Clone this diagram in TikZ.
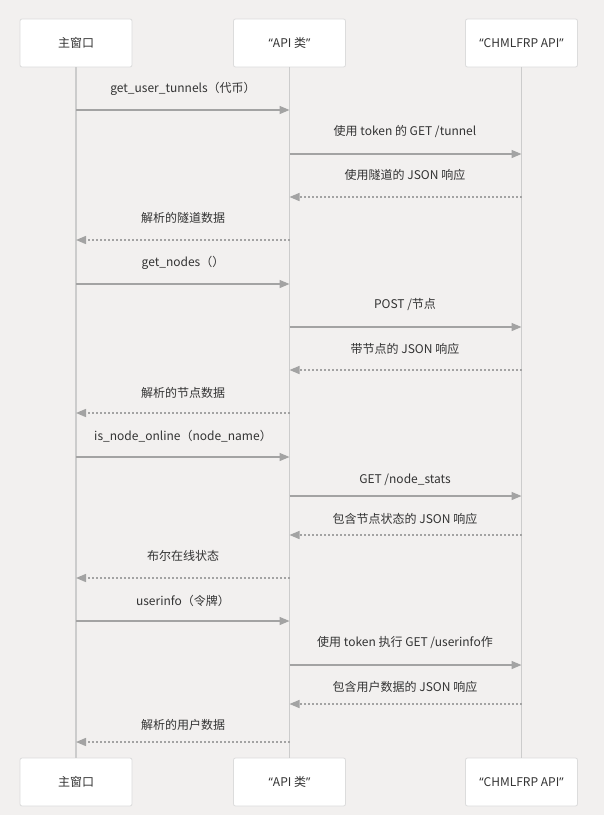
\documentclass[tikz,border=0pt]{standalone}
\usepackage{fontspec}
\setmainfont{Noto Sans CJK SC}
\newfontfamily\latinq{Noto Sans}
\usetikzlibrary{arrows.meta}
\definecolor{bgcol}{HTML}{F2F0EF}
\definecolor{boxline}{HTML}{DCDCDC}
\definecolor{lifecol}{HTML}{CCCCCC}
\definecolor{arrcol}{HTML}{A3A3A3}
\definecolor{txt}{HTML}{333333}
\newcommand\qopen{{\latinq “}}
\newcommand\qclose{{\latinq ”}}

\begin{document}
\begin{tikzpicture}[x=1pt, y=-1pt, font=\fontsize{12}{14}\selectfont,
	actor/.style={draw=boxline, fill=white, rounded corners=2pt, line width=0.8pt,
		minimum width=112pt, minimum height=48pt, text=txt},
	life/.style={draw=lifecol, line width=1.5pt},
	call/.style={draw=arrcol, line width=1.4pt, -{Triangle[length=10pt,width=8pt]}},
	reply/.style={call, dash pattern=on 2pt off 2pt},
	lbl/.style={text=txt, inner sep=0pt}]
			%background
			\fill[bgcol] (0,0) rectangle (604,815);
			%participants
			\node[actor] (mwTop) at (76,43) {主窗口};
			\node[actor] (apiTop) at (289.5,43) {\qopen API 类\qclose};
			\node[actor] (chmlTop) at (521.5,43) {\qopen CHMLFRP API\qclose};
			\node[actor] (mwBot) at (76,782) {主窗口};
			\node[actor] (apiBot) at (289.5,782) {\qopen API 类\qclose};
			\node[actor] (chmlBot) at (521.5,782) {\qopen CHMLFRP API\qclose};
			%lifelines
			\foreach \p in {mw,api,chml}
			\draw[life] (\p Top.south) -- (\p Bot.north);
			%message rows
			\foreach \i/\y in {1/110,2/154,3/197,4/240,5/284,6/327,7/370,8/413,
				9/457,10/496,11/535,12/578,13/621,14/665,15/704,16/742}
			\coordinate (r\i) at (0,\y);
			%messages
			\draw[call] (mwTop |- r1) -- (apiTop |- r1);
			\node[lbl] (l1) at (183,89) {get\_user\_tunnels（代币）};
			\draw[call] (apiTop |- r2) -- (chmlTop |- r2);
			\node[lbl] (l2) at (405,132) {使用 token 的 GET /tunnel};
			\draw[reply] (chmlTop |- r3) -- (apiTop |- r3);
			\node[lbl] (l3) at (405,175) {使用隧道的 JSON 响应};
			\draw[reply] (apiTop |- r4) -- (mwTop |- r4);
			\node[lbl] (l4) at (183,218) {解析的隧道数据};
			
			\draw[call] (mwTop |- r5) -- (apiTop |- r5);
			\node[lbl] (l5) at (183,263) {get\_nodes（）};
			\draw[call] (apiTop |- r6) -- (chmlTop |- r6);
			\node[lbl] (l6) at (405,305) {POST /节点};
			\draw[reply] (chmlTop |- r7) -- (apiTop |- r7);
			\node[lbl] (l7) at (405,349) {带节点的 JSON 响应};
			\draw[reply] (apiTop |- r8) -- (mwTop |- r8);
			\node[lbl] (l8) at (183,393) {解析的节点数据};
			
			\draw[call] (mwTop |- r9) -- (apiTop |- r9);
			\node[lbl] (l9) at (183,436) {is\_node\_online（node\_name）};
			\draw[call] (apiTop |- r10) -- (chmlTop |- r10);
			\node[lbl] (l10) at (405,480) {GET /node\_stats};
			\draw[reply] (chmlTop |- r11) -- (apiTop |- r11);
			\node[lbl] (l11) at (405,519) {包含节点状态的 JSON 响应};
			\draw[reply] (apiTop |- r12) -- (mwTop |- r12);
			\node[lbl] (l12) at (183,556) {布尔在线状态};
			
			\draw[call] (mwTop |- r13) -- (apiTop |- r13);
			\node[lbl] (l13) at (183,601) {userinfo（令牌）};
			\draw[call] (apiTop |- r14) -- (chmlTop |- r14);
			\node[lbl] (l14) at (405,643) {使用 token 执行 GET /userinfo作};
			\draw[reply] (chmlTop |- r15) -- (apiTop |- r15);
			\node[lbl] (l15) at (405,687) {包含用户数据的 JSON 响应};
			\draw[reply] (apiTop |- r16) -- (mwTop |- r16);
			\node[lbl] (l16) at (183,725) {解析的用户数据};
\end{tikzpicture}
\end{document}
